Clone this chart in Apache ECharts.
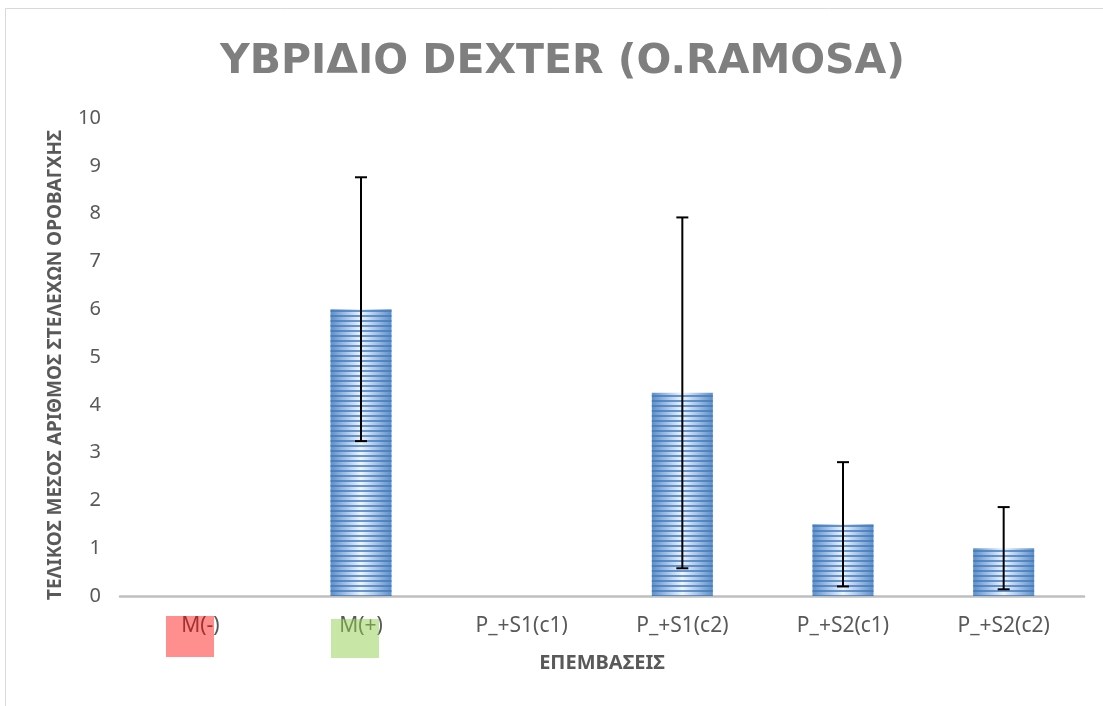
<!DOCTYPE html>
<html>
<head>
<meta charset="utf-8">
<script src="https://cdn.jsdelivr.net/npm/echarts@6/dist/echarts.min.js"></script>
<style>
    html, body {
        margin: 0;
        padding: 0;
        background: #fff;
    }
    #chart {
        width: 1103px;
        height: 706px;
    }
</style>
</head>
<body>
<div id="chart"></div>
<script>
    // κατηγορίες και τιμές
    const categories = ['M(-)', 'M(+)', 'P_+S1(c1)', 'P_+S1(c2)', 'P_+S2(c1)', 'P_+S2(c2)']
    const means = [0, 6, 0, 4.25, 1.5, 1]
    const errors = [0, 2.76, 0, 3.67, 1.3, 0.86]
    const yTicks = [0, 1, 2, 3, 4, 5, 6, 7, 8, 9, 10]

    const font = '"Noto Sans", "Open Sans", sans-serif'
    const grey = '#595959'

    const chart = echarts.init(document.getElementById('chart'))

    const errorData = categories.map((c, i) => [i, means[i] - errors[i], means[i] + errors[i], errors[i]])

    const option = {
        animation: false,
        textStyle: {fontFamily: font},
        title: {
            text: 'ΥΒΡΙΔΙΟ DEXTER (O.RAMOSA)',
            left: 215,
            top: 37,
            textStyle: {
                color: '#7f7f7f',
                fontSize: 41,
                fontWeight: 'bold',
                fontFamily: '"DejaVu Sans", sans-serif',
            },
        },
        grid: {
            left: 120,
            right: 19,
            top: 118,
            bottom: 110,
        },
        xAxis: {
            type: 'category',
            data: categories,
            name: 'ΕΠΕΜΒΑΣΕΙΣ',
            nameLocation: 'middle',
            nameGap: 57,
            nameTextStyle: {
                color: grey,
                fontSize: 20,
                fontWeight: 'bold',
            },
            axisLine: {
                lineStyle: {color: '#bfbfbf', width: 2.5},
            },
            axisTick: {show: false},
            axisLabel: {
                color: grey,
                fontSize: 21,
                margin: 20,
            },
        },
        yAxis: {
            type: 'value',
            min: yTicks[0],
            max: yTicks[yTicks.length - 1],
            interval: 1,
            name: 'ΤΕΛΙΚΟΣ ΜΕΣΟΣ ΑΡΙΘΜΟΣ ΣΤΕΛΕΧΩΝ ΟΡΟΒΑΓΧΗΣ',
            nameLocation: 'middle',
            nameGap: 55,
            nameTextStyle: {
                color: grey,
                fontSize: 19,
                fontWeight: 'bold',
                padding: [0, 16, 0, 0],
            },
            axisLine: {show: false},
            axisTick: {show: false},
            splitLine: {show: false},
            axisLabel: {
                color: grey,
                fontSize: 20,
                margin: 19,
            },
        },
        series: [
            {
                type: 'bar',
                data: means,
                barWidth: 61,
                itemStyle: {
                    color: {
                        type: 'linear', x: 0, y: 0, x2: 1, y2: 0,
                        colorStops: [
                            {offset: 0, color: '#5f8fc4'},
                            {offset: 0.5, color: '#eef5fd'},
                            {offset: 1, color: '#5f8fc4'},
                        ],
                    },
                    borderWidth: 0,
                    decal: {
                        symbol: 'rect',
                        symbolSize: 1,
                        color: 'rgba(60,120,195,0.75)',
                        dashArrayX: [1, 0],
                        dashArrayY: [2, 3],
                    },
                },
            },
            {
                // μπάρες σφάλματος
                type: 'custom',
                data: errorData,
                z: 10,
                renderItem: function (params, api) {
                    if (api.value(3) === 0) return
                    const top = api.coord([api.value(0), api.value(2)])
                    const bottom = api.coord([api.value(0), api.value(1)])
                    const w = 6
                    const style = {stroke: '#000', lineWidth: 2}
                    return {
                        type: 'group',
                        children: [
                            {type: 'line', shape: {x1: top[0], y1: top[1], x2: bottom[0], y2: bottom[1]}, style},
                            {type: 'line', shape: {x1: top[0] - w, y1: top[1], x2: top[0] + w, y2: top[1]}, style},
                            {type: 'line', shape: {x1: bottom[0] - w, y1: bottom[1], x2: bottom[0] + w, y2: bottom[1]}, style},
                        ],
                    }
                },
            },
        ],
        graphic: [
            {
                type: 'rect',
                z: 100,
                silent: true,
                shape: {x: 5.5, y: 8.5, width: 1200, height: 800},
                style: {fill: 'none', stroke: '#d9d9d9', lineWidth: 1},
            },
            {
                type: 'rect',
                z: 100,
                shape: {x: 166, y: 616, width: 48, height: 41},
                style: {fill: 'rgba(255,0,0,0.44)'},
            },
            {
                type: 'rect',
                z: 100,
                shape: {x: 331, y: 619, width: 48, height: 39},
                style: {fill: 'rgba(146,208,80,0.5)'},
            },
        ],
    }

    chart.setOption(option)
</script>
</body>
</html>
